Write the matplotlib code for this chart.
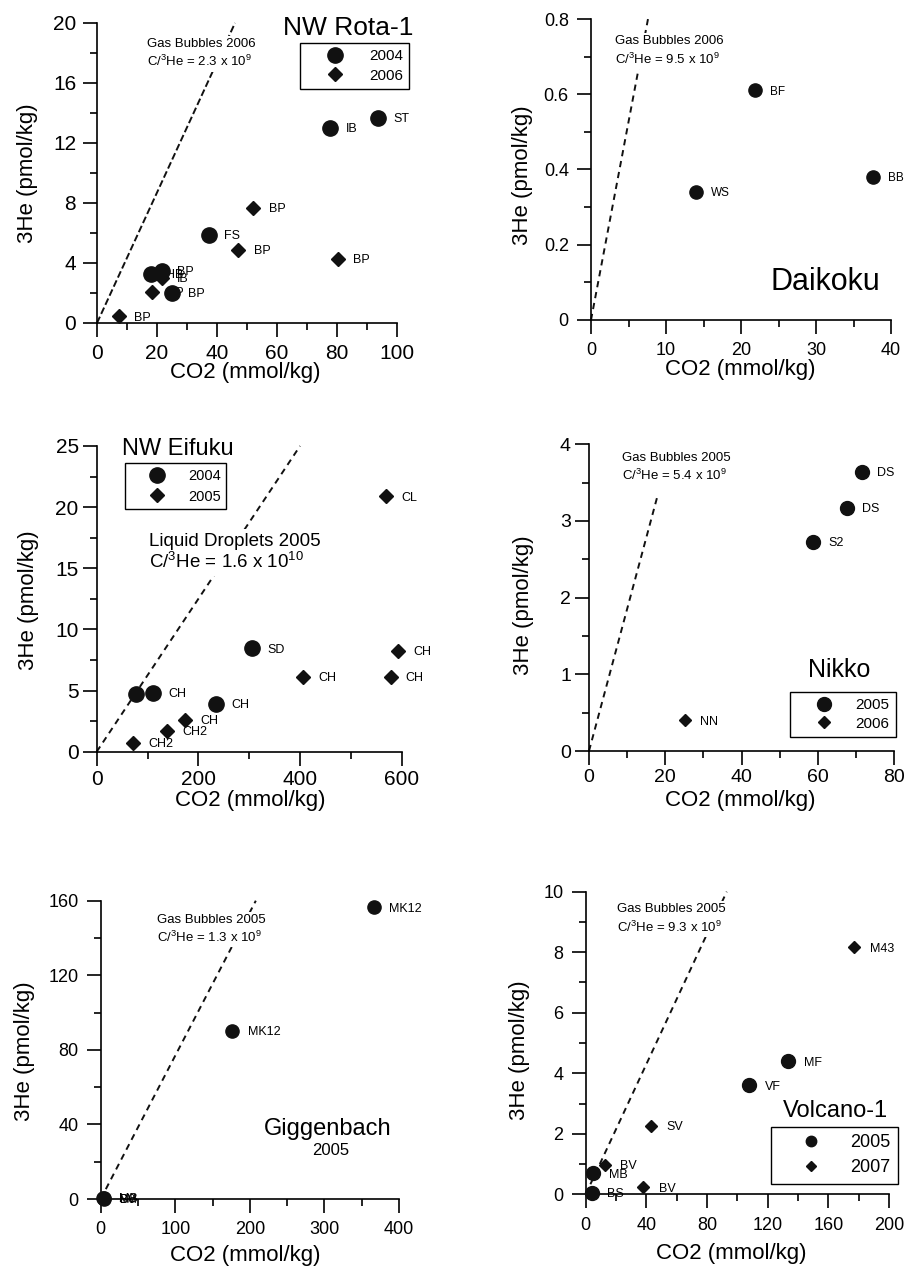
import matplotlib
matplotlib.use('Agg')
import matplotlib.pyplot as plt
from matplotlib.ticker import MultipleLocator, FuncFormatter
from matplotlib.lines import Line2D

plt.rcParams['font.family'] = ['Liberation Sans', 'DejaVu Sans']
plt.rcParams['lines.scale_dashes'] = False

# ---- data (CO2 mmol/kg, 3He pmol/kg) ----
rota_x04 = [93.6, 77.7, 37.4, 17.9, 21.6, 25.1]
rota_y04 = [13.7, 13.0, 5.9, 3.3, 3.5, 2.0]
rota_lab04 = ['ST', 'IB', 'FS', 'HB', 'BP', 'BP']
rota_x06 = [52.1, 47.1, 80.4, 21.6, 18.2, 7.4]
rota_y06 = [7.7, 4.9, 4.3, 3.0, 2.1, 0.45]
rota_lab06 = ['BP', 'BP', 'BP', 'IB', 'BP', 'BP']

daik_x = [21.8, 14.0, 37.6]
daik_y = [0.61, 0.34, 0.38]
daik_lab = ['BF', 'WS', 'BB']

eif_x04 = [305, 77, 111, 235]
eif_y04 = [8.46, 4.69, 4.83, 3.9]
eif_lab04 = ['SD', 'S', 'CH', 'CH']
eif_x05 = [569, 592, 406, 578, 174, 138, 72]
eif_y05 = [20.9, 8.24, 6.13, 6.13, 2.59, 1.69, 0.74]
eif_lab05 = ['CL', 'CH', 'CH', 'CH', 'CH', 'CH2', 'CH2']

nik_x05 = [71.5, 67.6, 58.7]
nik_y05 = [3.64, 3.17, 2.73]
nik_lab05 = ['DS', 'DS', 'S2']
nik_x06 = [25.2]
nik_y06 = [0.40]
nik_lab06 = ['NN']

gig_x = [366.5, 176.5, 3, 4, 5]
gig_y = [156.5, 90.1, 0.3, 0.6, 0.2]
gig_lab = ['MK12', 'MK12', 'SM', 'MB', 'B0']

vol_x05 = [133.6, 107.9, 5.0, 3.9]
vol_y05 = [4.40, 3.60, 0.69, 0.04]
vol_lab05 = ['MF', 'VF', 'MB', 'BS']
vol_x07 = [177.1, 42.9, 12.7, 38.0]
vol_y07 = [8.16, 2.26, 0.97, 0.23]
vol_lab07 = ['M43', 'SV', 'BV', 'BV']

# C/3He ratios of the reference lines and the 3He value where each line stops
ratios = [2.3e9, 9.5e9, 1.6e10, 5.4e9, 1.3e9, 9.3e9]
line_top = [20, 0.8, 25, 3.3, 160, 10]

W, H = 905, 1269
fig = plt.figure(figsize=(W / 100, H / 100), dpi=100)
INK = '#111111'


def make_ax(left, top, right, bottom):
    return fig.add_axes([left / W, 1 - bottom / H, (right - left) / W, (bottom - top) / H])


def setup(ax, xmax, xmaj, ymax, ymaj, fs, pad):
    ax.set_xlim(0, xmax)
    ax.set_ylim(0, ymax)
    for s in ['top', 'right']:
        ax.spines[s].set_visible(False)
    for s in ['left', 'bottom']:
        ax.spines[s].set_linewidth(1.2)
    ax.xaxis.set_major_locator(MultipleLocator(xmaj))
    ax.xaxis.set_minor_locator(MultipleLocator(xmaj / 2))
    ax.yaxis.set_major_locator(MultipleLocator(ymaj))
    ax.yaxis.set_minor_locator(MultipleLocator(ymaj / 2))
    fmt = FuncFormatter(lambda v, p: f'{v:g}')
    ax.xaxis.set_major_formatter(fmt)
    ax.yaxis.set_major_formatter(fmt)
    ax.tick_params(which='major', direction='out', length=10, width=1.2,
                   labelsize=fs, pad=pad)
    ax.tick_params(which='minor', direction='out', length=5, width=1.2)


def points(ax, xs, ys, labs, marker, ms, lfs=9):
    ax.plot(xs, ys, marker, ms=ms, color=INK, ls='none', clip_on=False, zorder=4)
    for x, y, t in zip(xs, ys, labs):
        ax.annotate(t, (x, y), xytext=(11, -1), textcoords='offset points',
                    va='center', fontsize=lfs, zorder=3.5, annotation_clip=False)


def ref_line(ax, i, dash):
    slope = 1e9 / ratios[i]
    ax.plot([0, line_top[i] / slope], [0, line_top[i]], color=INK, lw=1.4,
            dashes=dash, zorder=2, clip_on=False)


def note(ax, x, y, first, ratio_txt, fs):
    ax.text(x, y, first + '\nC/$\\mathregular{^3}$He = ' + ratio_txt, fontsize=fs,
            va='top', ha='left', linespacing=1.35, zorder=3,
            bbox=dict(fc='white', ec='none', pad=1.5))


def labels(ax, xc, xy, yx, yc):
    ax.set_xlabel('CO2 (mmol/kg)', fontsize=16, va='center')
    ax.xaxis.set_label_coords(xc, xy)
    ax.set_ylabel('3He (pmol/kg)', fontsize=16, va='center')
    ax.yaxis.set_label_coords(yx, yc)


def legend(ax, years, anchor, fs, ms_c, ms_d, hl, htp, ls):
    hs = [Line2D([], [], marker='o', ls='none', color=INK, ms=ms_c),
          Line2D([], [], marker='D', ls='none', color=INK, ms=ms_d)]
    leg = ax.legend(hs, years, loc='upper left', bbox_to_anchor=anchor,
                    borderaxespad=0, fancybox=False, edgecolor='black',
                    framealpha=1, fontsize=fs, handlelength=hl,
                    handletextpad=htp, borderpad=0.4, labelspacing=ls)
    leg.get_frame().set_linewidth(1.0)
    leg.set_zorder(5)


# ---- NW Rota-1 ----
ax = make_ax(97, 23, 397, 323)
setup(ax, 100, 20, 20, 4, 15, 5)
ref_line(ax, 0, (5, 2.2))
note(ax, 16.5, 19.0, 'Gas Bubbles 2006', '2.3 x 10$\\mathregular{^9}$', 9.5)
points(ax, rota_x06, rota_y06, rota_lab06, 'D', 7.0)
points(ax, rota_x04, rota_y04, rota_lab04, 'o', 11)
ax.text(1.053, 0.96, 'NW Rota-1', transform=ax.transAxes, fontsize=19,
        ha='right', va='baseline')
legend(ax, ['2004', '2006'], (0.677, 0.933), 11, 11, 7.0, 3.8, 0.3, 0.35)
labels(ax, 0.493, -0.165, -0.23, 0.5)

# ---- Daikoku ----
ax = make_ax(591, 19, 891, 320)
setup(ax, 40, 10, 0.8, 0.2, 13, 6)
ref_line(ax, 1, (4.5, 3.5))
note(ax, 3.2, 0.757, 'Gas Bubbles 2006', '9.5 x 10$\\mathregular{^9}$', 9.5)
points(ax, daik_x, daik_y, daik_lab, 'o', 9.5, 8.5)
ax.text(0.963, 0.1, 'Daikoku', transform=ax.transAxes, fontsize=22,
        ha='right', va='baseline')
labels(ax, 0.497, -0.166, -0.227, 0.48)

# ---- NW Eifuku ----
ax = make_ax(96.7, 446, 401.7, 751.7)
setup(ax, 600, 200, 25, 5, 15, 3)
ref_line(ax, 2, (4.5, 3.5))
ax.text(103.5, 17.9, 'Liquid Droplets 2005\nC/$\\mathregular{^3}$He = 1.6 x 10$\\mathregular{^{10}}$',
        fontsize=13.5, va='top', ha='left', linespacing=1.1, zorder=3,
        bbox=dict(fc='white', ec='none', pad=3))
points(ax, eif_x05, eif_y05, eif_lab05, 'D', 7.0)
points(ax, eif_x04, eif_y04, eif_lab04, 'o', 11)
ax.text(0.082, 0.97, 'NW Eifuku', transform=ax.transAxes, fontsize=17,
        ha='left', va='baseline')
legend(ax, ['2004', '2005'], (0.093, 0.944), 10.5, 11, 7.0, 3.6, 0.3, 0.45)
labels(ax, 0.503, -0.16, -0.225, 0.496)

# ---- Nikko ----
ax = make_ax(589, 444.3, 894, 751)
setup(ax, 80, 20, 4, 1, 14, 3)
ref_line(ax, 3, (4.5, 3.5))
note(ax, 8.6, 3.9, 'Gas Bubbles 2005', '5.4 x 10$\\mathregular{^9}$', 9.5)
points(ax, nik_x05, nik_y05, nik_lab05, 'o', 10)
points(ax, nik_x06, nik_y06, nik_lab06, 'D', 6.5)
ax.text(0.718, 0.242, 'Nikko', transform=ax.transAxes, fontsize=18,
        ha='left', va='baseline')
legend(ax, ['2005', '2006'], (0.659, 0.192), 11, 10, 6.5, 3.6, 0.3, 0.3)
labels(ax, 0.495, -0.16, -0.216, 0.476)

# ---- Giggenbach ----
ax = make_ax(100.7, 900.7, 399, 1199)
setup(ax, 400, 100, 160, 40, 13, 6)
ref_line(ax, 4, (4.5, 3.5))
note(ax, 75, 153, 'Gas Bubbles 2005', '1.3 x 10$\\mathregular{^9}$', 9.5)
points(ax, gig_x, gig_y, gig_lab, 'o', 9.5)
ax.text(0.548, 0.215, 'Giggenbach', transform=ax.transAxes, fontsize=17,
        ha='left', va='baseline')
ax.text(0.772, 0.1475, '2005', transform=ax.transAxes, fontsize=12,
        ha='center', va='baseline')
labels(ax, 0.484, -0.191, -0.254, 0.494)

# ---- Volcano-1 ----
ax = make_ax(585.7, 891.7, 889, 1194.3)
setup(ax, 200, 40, 10, 2, 13, 6)
ref_line(ax, 5, (4.5, 3.5))
note(ax, 20.4, 9.62, 'Gas Bubbles 2005', '9.3 x 10$\\mathregular{^9}$', 9.5)
points(ax, vol_x07, vol_y07, vol_lab07, 'D', 6.5)
points(ax, vol_x05, vol_y05, vol_lab05, 'o', 10)
ax.text(0.997, 0.256, 'Volcano-1', transform=ax.transAxes, fontsize=17,
        ha='right', va='baseline')
legend(ax, ['2005', '2007'], (0.611, 0.222), 13, 7.5, 5.0, 3.6, 0.4, 0.45)
labels(ax, 0.481, -0.197, -0.217, 0.477)

fig.savefig('out.png', dpi=100)
